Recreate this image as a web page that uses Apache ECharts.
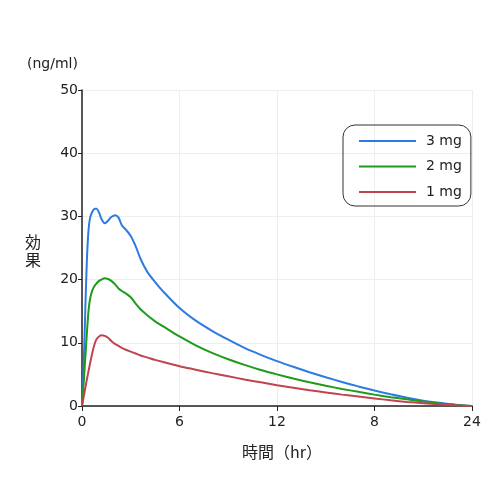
<!DOCTYPE html>
<html>
<head>
<meta charset="utf-8">
<script src="https://cdn.jsdelivr.net/npm/echarts@6/dist/echarts.min.js"></script>
<style>
  html, body { margin: 0; padding: 0; background: #fff; }
  #chart { width: 500px; height: 500px; }
</style>
</head>
<body>
<div id="chart"></div>
<script>
// 時間 (hr)
var hours = [0, 0.1, 0.2, 0.3, 0.4, 0.5, 0.65, 0.8, 0.9, 1.05, 1.2, 1.4, 1.6, 1.8, 2.05, 2.25, 2.45, 2.7, 3.0, 3.3, 3.6, 4.0, 4.5, 5,
    6, 7, 8, 9, 10, 11, 12, 13, 14, 15, 16, 17, 18, 19, 20, 21, 22, 23, 24];
// 効果 (ng/ml)
var dose3 = [0, 6, 15, 23, 27.8, 29.8, 30.8, 31.2, 31.2, 30.6, 29.6, 28.9, 29.3, 29.9, 30.2, 29.8, 28.6, 27.9, 26.9, 25.3, 23.3, 21.3, 19.6, 18.1,
    15.5, 13.5, 11.9, 10.5, 9.2, 8.1, 7.1, 6.2, 5.35, 4.55, 3.8, 3.1, 2.45, 1.85, 1.3, 0.85, 0.5, 0.2, 0];
var dose2 = [0, 3.5, 7.5, 11.5, 15, 17, 18.4, 19.1, 19.4, 19.8, 20.0, 20.2, 20.1, 19.8, 19.2, 18.6, 18.2, 17.8, 17.2, 16.2, 15.3, 14.4, 13.4, 12.6,
    11.0, 9.6, 8.4, 7.4, 6.5, 5.7, 5.0, 4.35, 3.75, 3.2, 2.7, 2.25, 1.8, 1.4, 1.05, 0.7, 0.4, 0.15, 0];
var dose1 = [0, 1.4, 2.8, 4.2, 5.5, 6.8, 8.6, 10.0, 10.6, 11.0, 11.2, 11.1, 10.8, 10.3, 9.8, 9.5, 9.2, 8.9, 8.6, 8.3, 8.0, 7.7, 7.3, 6.95,
    6.3, 5.75, 5.2, 4.7, 4.2, 3.75, 3.3, 2.9, 2.5, 2.15, 1.8, 1.5, 1.2, 0.9, 0.65, 0.45, 0.25, 0.1, 0];
var seriesNames = ['3 mg', '2 mg', '1 mg'];
var xTickLabels = {0: '0', 6: '6', 12: '12', 18: '8', 24: '24'};

var font = '"DejaVu Sans", "Noto Sans CJK JP", sans-serif';

function pairs(ys) { // [x, y] の組にする
    return hours.map(function(h, i) { return [h, ys[i]]; });
}

function lineSeries(name, ys, color) {
    return {
        name: name,
        type: 'line',
        data: pairs(ys),
        smooth: 0.3,
        showSymbol: false,
        lineStyle: { color: color, width: 2 },
        itemStyle: { color: color }
    };
}

var myChart = echarts.init(document.getElementById('chart'));
var option = {
    backgroundColor: '#fff',
    animation: false,
    textStyle: { fontFamily: font },
    grid: { left: 82, right: 28, top: 90, bottom: 94 },
    legend: {
        orient: 'vertical',
        left: 343,
        top: 125,
        data: seriesNames,
        icon: 'rect',
        itemWidth: 57,
        itemHeight: 2,
        itemGap: 9.5,
        padding: [8, 9, 6, 16],
        borderColor: '#333',
        borderWidth: 1,
        borderRadius: 12,
        textStyle: { fontSize: 14, color: '#222', lineHeight: 16, padding: [0, 0, 0, 5], fontFamily: font }
    },
    xAxis: {
        type: 'value',
        min: 0,
        max: 24,
        interval: 6,
        axisLine: { lineStyle: { color: '#222', width: 1.5 } },
        axisTick: { length: 5, lineStyle: { color: '#222' } },
        axisLabel: {
            fontSize: 14,
            color: '#222',
            margin: 9,
            formatter: function(v) { return xTickLabels[v]; }
        },
        splitLine: { show: true, lineStyle: { color: '#eeeeee' } }
    },
    yAxis: {
        type: 'value',
        min: 0,
        max: 50,
        interval: 10,
        axisLine: { show: true, lineStyle: { color: '#222', width: 1.5 } },
        axisTick: { show: true, length: 4, lineStyle: { color: '#222' } },
        axisLabel: { fontSize: 14, color: '#222', margin: 4 },
        splitLine: { show: true, lineStyle: { color: '#eeeeee' } }
    },
    graphic: [{
        type: 'text', left: 27, top: 57,
        style: { text: '(ng/ml)', fontSize: 14, fill: '#222', fontFamily: font }
    }, {
        type: 'text', left: 25, top: 233,
        style: { text: '効\n果', fontSize: 16, lineHeight: 18, fill: '#222', fontFamily: '"Noto Sans CJK JP", sans-serif' }
    }, {
        type: 'text', left: 242, top: 444,
        style: { text: '時間（hr）', fontSize: 16, fill: '#222', fontFamily: '"Noto Sans CJK JP", sans-serif' }
    }],
    series: [
        lineSeries(seriesNames[0], dose3, '#2b7be0'),
        lineSeries(seriesNames[1], dose2, '#1e9b1a'),
        lineSeries(seriesNames[2], dose1, '#c04350')
    ]
};
myChart.setOption(option);
</script>
</body>
</html>
